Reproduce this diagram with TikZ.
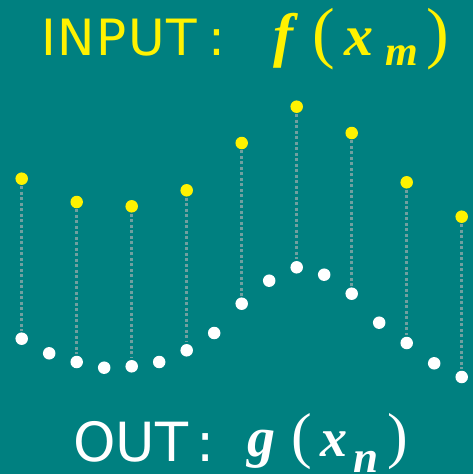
\documentclass[tikz,border=0pt]{standalone}
\usepackage{fontspec}
\newfontfamily\labelfont{DejaVu Sans}
\newfontfamily\formulafont{Liberation Serif}
\usetikzlibrary{positioning}
\definecolor{tealbg}{RGB}{0,128,128}
\definecolor{linkgrey}{RGB}{112,160,160}
\newcommand{\fsz}[1]{\fontsize{#1}{#1}\selectfont}
\newcommand{\fnvar}[2]{{\formulafont\fsz{#1}\bfseries\itshape #2}}
\newcommand{\fnparen}[2]{{\formulafont\fsz{#1}#2}}

\begin{document}
\begin{tikzpicture}[
			x=1pt,y=-1pt,
			indot/.style={
				circle,
				fill=yellow,
				inner sep=0pt,
				minimum size=12.5pt
			},
			outdot/.style={
				circle,
				fill=white,
				inner sep=0pt,
				minimum size=12.5pt
			},
			link/.style={
				draw=linkgrey,
				line width=2.5pt,
				dash pattern=on 3pt off 2.5pt,
				shorten <=1pt,
				shorten >=1.5pt
			},
			title/.style={
				inner sep=0pt,
				anchor=base west
			}
			]
			
			% Background
			\fill[tealbg] (0,0) rectangle (473,474);
			\useasboundingbox (0,0) rectangle (473,474);
			
			% Titles
			\node[title,text=yellow,font=\labelfont\fsz{50}\addfontfeature{LetterSpace=3}] (inlabel) at (41,55) {INPUT\hspace{12pt}:};
			\node[title,text=yellow] (inmath) at (273,55)
			{\fnvar{60}{f}\hspace{19pt}\fnparen{68}{(}\hspace{10pt}\fnvar{58}{x}\hspace{11.5pt}\raisebox{-10pt}{\fnvar{42}{m}}\hspace{9pt}\fnparen{68}{)}};
			\node[title,text=white,font=\labelfont\fsz{54}] (outlabel) at (73,461) {OUT\hspace{8pt}:};
			\node[title,text=white] (outmath) at (247.5,456.7)
			{\fnvar{56}{g}\hspace{15.3pt}\fnparen{62}{(}\hspace{8.4pt}\fnvar{54}{x}\hspace{6.5pt}\raisebox{-15.7pt}{\fnvar{45}{n}}\hspace{9pt}\fnparen{62}{)}};
			
			% Output samples
			\foreach \y [count=\k from 0] in {338.7,353.3,362,367.7,366.3,362,350.3,333,303.7,280.7,267.3,274.7,293.7,322.7,343,363.3,377}
			\node[outdot] (out\k) at (21.7+27.5*\k,\y) {};
			
			% Input samples
			\foreach \y [count=\j from 0,evaluate=\j as \k using int(2*\j)] in {178.7,202,206.3,190.3,143,106.7,133,182.3,216.7}{
				\node[indot] (in\j) at (21.7+27.5*\k,\y) {};
				\draw[link] (in\j) -- (out\k);
			}
			
		\end{tikzpicture}
\end{document}
